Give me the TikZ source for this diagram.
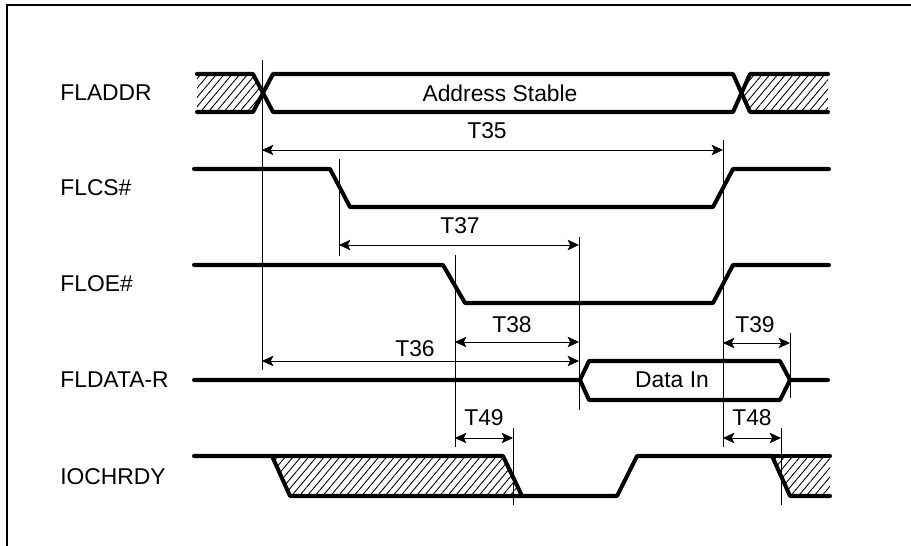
\documentclass[tikz,border=0pt]{standalone}
\usepackage{fontspec}
\setmainfont{Liberation Sans}
\usetikzlibrary{arrows.meta,patterns.meta}

\tikzset{
  sig/.style={line width=2.3pt,line join=round,line cap=round},
  guide/.style={line width=0.5pt},
  span/.style={line width=0.5pt,{Stealth[length=6.5pt,width=6pt,inset=1.5pt]}-{Stealth[length=6.5pt,width=6pt,inset=1.5pt]}},
  hatch/.style={pattern={Lines[angle=50,distance=3.4pt,line width=0.5pt]}},
  lbl/.style={anchor=west,inner sep=0pt}
}

\begin{document}
\begin{tikzpicture}[x=0.02cm,y=-0.02cm]
\fontsize{13pt}{15pt}\selectfont
\useasboundingbox (0,0) rectangle (911,546);
% frame
\draw[line width=1.2pt] (7,546) -- (7,5) -- (911,5);

% signal names
\node[lbl] (addr) at (60,93) {FLADDR};
\node[lbl] (cs) at (60,188) {FLCS\#};
\node[lbl] (oe) at (60,284) {FLOE\#};
\node[lbl] (data) at (60,380) {FLDATA-R};
\node[lbl] (rdy) at (60,477) {IOCHRDY};

% FLADDR
\fill[hatch] (197,74) -- (253,74) -- (263,93) -- (253,112) -- (197,112) -- cycle;
\fill[hatch] (741,93) -- (750,74) -- (828,74) -- (828,112) -- (750,112) -- cycle;
\draw[sig] (197,74) -- (253,74) -- (273,112) -- (733,112) -- (750,74) -- (828,74);
\draw[sig] (197,112) -- (253,112) -- (273,74) -- (733,74) -- (750,112) -- (828,112);
\node (stable) at (500,93) {Address Stable};

% FLCS#
\draw[sig] (194,169) -- (330,169) -- (350,207) -- (713,207) -- (733,169) -- (829,169);

% FLOE#
\draw[sig] (194,265) -- (443,265) -- (465,303) -- (713,303) -- (733,265) -- (829,265);

% FLDATA-R
\draw[sig] (194,380) -- (580,380) -- (589,361) -- (780,361) -- (790,380) -- (828,380);
\draw[sig] (580,380) -- (589,400) -- (780,400) -- (790,380);
\node (din) at (672,380) {Data In};

% IOCHRDY
\fill[hatch] (272,456) -- (503,456) -- (522,496) -- (290,496) -- cycle;
\fill[hatch] (772,456) -- (830,456) -- (830,496) -- (790,496) -- cycle;
\draw[sig] (194,456) -- (272,456) -- (290,496) -- (617,496) -- (637,456) -- (772,456) -- (790,496) -- (830,496);
\draw[sig] (272,456) -- (503,456) -- (522,496);
\draw[sig] (772,456) -- (830,456);

% guide lines
\draw[guide] (262,60) -- (262,370);
\draw[guide] (339,159) -- (339,256);
\draw[guide] (723,140) -- (723,447);
\draw[guide] (579,237) -- (579,410);
\draw[guide] (455,255) -- (455,447);
\draw[guide] (513,428) -- (513,505);
\draw[guide] (790,333) -- (790,398);
\draw[guide] (781,428) -- (781,505);

% timing spans
\coordinate (a35) at (262,150); \coordinate (b35) at (723,150);
\coordinate (a37) at (339,245); \coordinate (b37) at (579,245);
\coordinate (a38) at (455,342); \coordinate (b38) at (579,342);
\coordinate (a36) at (262,361); \coordinate (b36) at (579,361);
\coordinate (a39) at (723,343); \coordinate (b39) at (790,343);
\coordinate (a49) at (455,438); \coordinate (b49) at (513,438);
\coordinate (a48) at (723,438); \coordinate (b48) at (781,438);
\draw[span] (a35) -- (b35);
\draw[span] (a37) -- (b37);
\draw[span] (a38) -- (b38);
\draw[span] (a36) -- (b36);
\draw[span] (a39) -- (b39);
\draw[span] (a49) -- (b49);
\draw[span] (a48) -- (b48);
\node (t35) at (487,131) {T35};
\node (t37) at (460,226) {T37};
\node (t38) at (512,325) {T38};
\node (t36) at (415,349) {T36};
\node (t39) at (755,325) {T39};
\node (t49) at (484,418) {T49};
\node (t48) at (752,418) {T48};
\end{tikzpicture}
\end{document}
